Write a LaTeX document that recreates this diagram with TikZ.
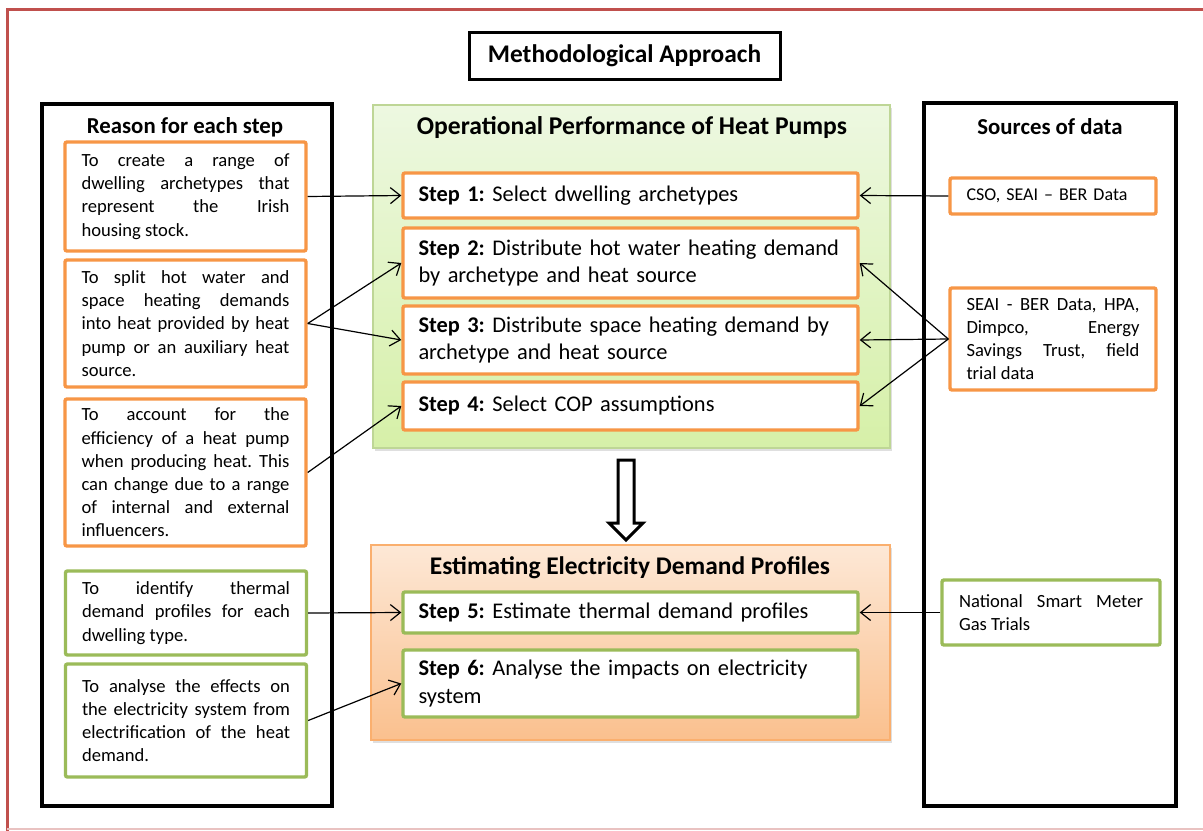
\documentclass[tikz,border=0pt]{standalone}
\usepackage{fontspec}
\setmainfont{Carlito}
\usetikzlibrary{arrows.meta,shadows,positioning}

\definecolor{boxorange}{RGB}{247,150,70}
\definecolor{boxgreen}{RGB}{155,187,89}
\definecolor{framered}{RGB}{192,80,77}

\begin{document}
\frenchspacing
\begin{tikzpicture}[x=0.5pt,y=-0.5pt,
    column/.style={
      % The shape:
      rectangle,inner sep=0pt,
      % The rest
      line width=2pt,draw=black,fill=white},
    panel/.style={
      rectangle,inner sep=0pt,line width=0.6pt,
      drop shadow={opacity=0.25,shadow xshift=1pt,shadow yshift=-1.5pt}},
    heading/.style={font=\bfseries\fontsize{#1}{14}\selectfont},
    heading/.default=12,
    reason/.style={
      % The shape:
      rectangle,rounded corners=1pt,inner sep=0pt,
      minimum width=120.5pt,text width=104pt,
      % The rest
      line width=1.7pt,fill=white,align=justify,
      font=\fontsize{9.3}{11.6}\selectfont},
    stepbox/.style={
      rectangle,rounded corners=1pt,inner sep=0pt,
      minimum width=227.5pt,text width=212pt,
      line width=1.7pt,fill=white,align=left,
      font=\fontsize{11.2}{13.6}\selectfont},
    oline/.style={draw=boxorange},
    gline/.style={draw=boxgreen},
    link/.style={-{Straight Barb[length=5pt,width=8pt]},line width=0.6pt}]

  \clip (0,0) rectangle (1203,830);
  % outer frame
  \draw[framered,line width=1.5pt] (1215,9) -- (7,9) -- (7,840);
  \draw[framered!35,line width=0.8pt] (7,829) -- (1203,829);

  \node[column,line width=1.5pt,minimum width=155.5pt,minimum height=23.5pt,
        font=\bfseries\fontsize{12.7}{15}\selectfont] (title) at (624.5,55.5)
        {Methodological Approach};

  % the three columns
  \node[column,minimum width=145pt,minimum height=351pt] (reasons) at (187,455) {};
  \node[column,minimum width=126pt,minimum height=351.5pt] (sources) at (1050,454.5) {};
  \node[panel,draw={rgb,255:red,190;green,214;blue,150},
        top color={rgb,255:red,237;green,248;blue,225},
        bottom color={rgb,255:red,214;green,240;blue,168},
        minimum width=258.5pt,minimum height=171.5pt] (hpumps) at (631.5,276.5) {};
  \node[panel,draw={rgb,255:red,250;green,175;blue,110},
        top color={rgb,255:red,253;green,232;blue,214},
        bottom color={rgb,255:red,250;green,192;blue,142},
        minimum width=259.5pt,minimum height=97.5pt] (elec) at (630.5,642.5) {};

  \node[heading=11.4] (reasonshead) at (185,127) {Reason for each step};
  \node[heading=11.4] (sourceshead) at (1050,127) {Sources of data};
  \node[heading=12.8] (hpumpshead) at (632,128) {Operational Performance of Heat Pumps};
  \node[heading=12.7] (elechead) at (630,568) {Estimating Electricity Demand Profiles};

  % reasons
  \node[reason,oline,minimum height=54.5pt] (r1) at (185.5,196.5)
    {To create a range of\linebreak dwelling archetypes that\linebreak represent the Irish\linebreak housing stock.};
  \node[reason,oline,minimum height=63.5pt] (r2) at (185.5,323.5)
    {To split hot water and\linebreak space heating demands\linebreak into heat provided by heat\linebreak pump or an auxiliary heat\linebreak source.};
  \node[reason,oline,minimum height=73.5pt] (r3) at (185.5,472.5)
    {To account for the\linebreak efficiency of a heat pump\linebreak when producing heat. This\linebreak can change due to a range\linebreak of internal and external\linebreak influencers.};
  \node[reason,gline,minimum height=42pt] (r4) at (186,613)
    {To identify thermal\linebreak demand profiles for each\linebreak dwelling type.};
  \node[reason,gline,minimum height=56.5pt] (r5) at (186,720.5)
    {To analyse the effects on\linebreak the electricity system from\linebreak electrification of the heat\linebreak demand.};

  % steps
  \node[stepbox,oline,minimum height=22.5pt] (s1) at (630.5,195.5)
    {\textbf{Step 1:} Select dwelling archetypes};
  \node[stepbox,oline,minimum height=35pt] (s2) at (630.5,263)
    {\textbf{Step 2:} Distribute hot water heating demand\\by archetype and heat source};
  \node[stepbox,oline,minimum height=34pt] (s3) at (630.5,340)
    {\textbf{Step 3:} Distribute space heating demand by\\archetype and heat source};
  \node[stepbox,oline,minimum height=24pt] (s4) at (630.5,406)
    {\textbf{Step 4:} Select COP assumptions};
  \node[stepbox,gline,minimum height=20.5pt] (s5) at (630.5,612.5)
    {\textbf{Step 5:} Estimate thermal demand profiles};
  \node[stepbox,gline,minimum height=33.5pt] (s6) at (630.5,683.5)
    {\textbf{Step 6:} Analyse the impacts on electricity\\system};

  % sources
  \node[reason,oline,minimum width=103pt,text width=86.5pt,align=left,minimum height=18pt,
        font=\fontsize{9}{11.5}\selectfont] (d1) at (1053,196)
    {CSO, SEAI -- BER Data};
  \node[reason,oline,minimum width=103pt,text width=86.5pt,minimum height=51pt] (d2) at (1053,339)
    {SEAI - BER Data, HPA,\linebreak Dimpco, Energy\linebreak Savings Trust, field\linebreak trial data};
  \node[reason,gline,minimum width=109pt,text width=92pt,minimum height=32.5pt] (d3) at (1051,612.5)
    {National Smart Meter\linebreak Gas Trials};

  % hollow arrow between the panels
  \draw[line width=1.5pt,fill=white] (618,460) -- (634,460) -- (634,523) -- (643,523)
    -- (626,540) -- (609,523) -- (618,523) -- cycle;

  % links
  \draw[link] (r1.east) -- (s1.west);
  \draw[link] (r2.east) -- (s2.west);
  \draw[link] (r2.east) -- (s3.west);
  \draw[link] (r3.east) -- (s4.west);
  \draw[link] (r4.east) -- (s5.west);
  \draw[link] (r5.east) -- (s6.west);
  \draw[link] (d1.west) -- (s1.east);
  \draw[link] (d2.west) -- (s2.east);
  \draw[link] (d2.west) -- (s3.east);
  \draw[link] (d2.west) -- (s4.east);
  \draw[link] (d3.west) -- (s5.east);
\end{tikzpicture}
\end{document}
